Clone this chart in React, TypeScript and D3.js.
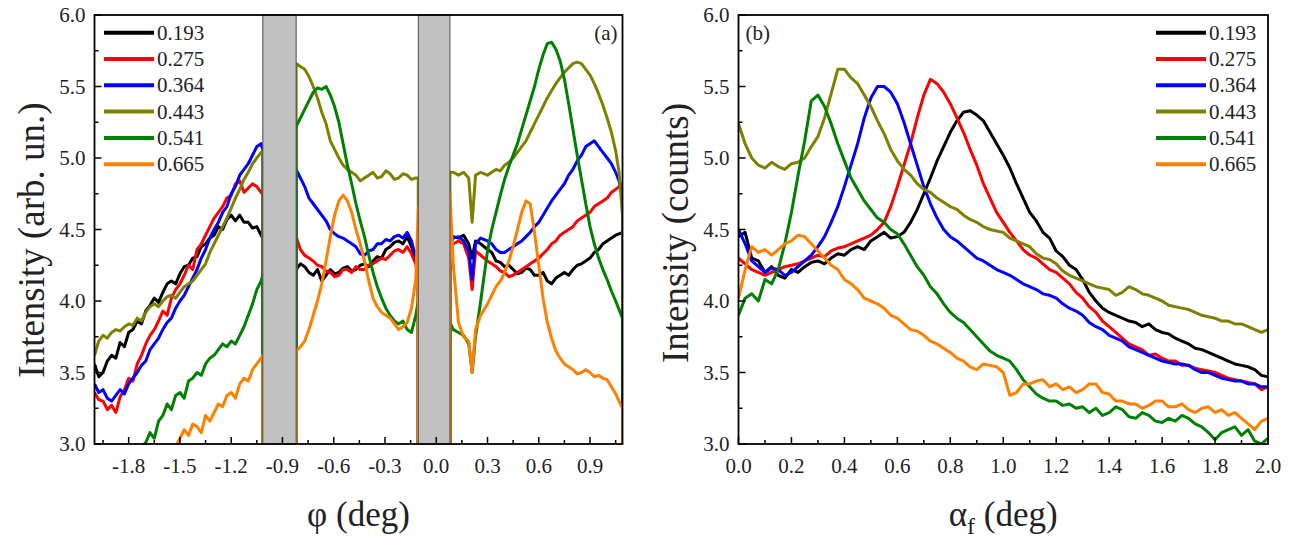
import React from "react";
import * as d3 from "d3";

const seriesLabels = ["0.193", "0.275", "0.364", "0.443", "0.541", "0.665"];
const seriesColors = ["#000000", "#ff0000", "#0000ff", "#808000", "#008000", "#ff8000"];

// ---- Panel (a): phi scans, three segments separated by detector gaps ----
const phiA = [
  -2.0, -1.975, -1.95, -1.925, -1.9, -1.875, -1.85, -1.825, -1.8, -1.775,
  -1.75, -1.725, -1.7, -1.675, -1.65, -1.625, -1.6, -1.575, -1.55, -1.525,
  -1.5, -1.475, -1.45, -1.425, -1.4, -1.375, -1.35, -1.325, -1.3, -1.275,
  -1.25, -1.225, -1.2, -1.175, -1.15, -1.125, -1.1, -1.075, -1.05, -1.025,
  -1.015,
];
const phiB = [
  -0.82, -0.795, -0.77, -0.745, -0.72, -0.695, -0.67, -0.645, -0.62, -0.595,
  -0.57, -0.545, -0.52, -0.495, -0.47, -0.445, -0.42, -0.395, -0.37, -0.345,
  -0.32, -0.295, -0.27, -0.245, -0.22, -0.195, -0.17, -0.145, -0.12, -0.105,
];
const phiC = [
  0.08, 0.1, 0.13, 0.16, 0.19, 0.21, 0.23, 0.26, 0.3,
  0.325, 0.35, 0.375, 0.4, 0.425, 0.45, 0.475, 0.5, 0.525, 0.55,
  0.575, 0.6, 0.625, 0.65, 0.675, 0.7, 0.725, 0.75, 0.775, 0.8,
  0.825, 0.85, 0.875, 0.9, 0.925, 0.95, 0.975, 1.0, 1.025, 1.05,
  1.07, 1.09,
];
const gaps = [[-1.015, -0.82], [-0.105, 0.08]];

const a0193A = [3.56, 3.47, 3.5, 3.58, 3.62, 3.6, 3.71, 3.68, 3.78, 3.8, 3.86, 3.84, 3.93, 3.97, 4.02, 3.99, 4.06, 4.12, 4.14, 4.12, 4.19, 4.24, 4.25, 4.3, 4.31, 4.38, 4.4, 4.44, 4.46, 4.52, 4.5, 4.57, 4.6, 4.56, 4.6, 4.55, 4.55, 4.51, 4.52, 4.46, 4.44];
const a0275A = [3.36, 3.31, 3.3, 3.24, 3.27, 3.22, 3.33, 3.38, 3.46, 3.44, 3.56, 3.62, 3.7, 3.76, 3.8, 3.86, 3.93, 3.9, 4.02, 4.08, 4.12, 4.18, 4.25, 4.22, 4.36, 4.4, 4.46, 4.52, 4.58, 4.62, 4.66, 4.72, 4.74, 4.82, 4.84, 4.76, 4.79, 4.82, 4.8, 4.76, 4.74];
const a0364A = [3.42, 3.36, 3.38, 3.32, 3.3, 3.34, 3.38, 3.35, 3.42, 3.46, 3.5, 3.55, 3.58, 3.66, 3.7, 3.74, 3.8, 3.85, 3.88, 3.95, 4.0, 4.04, 4.1, 4.16, 4.22, 4.3, 4.36, 4.44, 4.5, 4.55, 4.62, 4.66, 4.75, 4.8, 4.88, 4.92, 4.96, 5.02, 5.08, 5.1, 5.06];
const a0443A = [3.62, 3.72, 3.76, 3.74, 3.78, 3.8, 3.79, 3.82, 3.84, 3.83, 3.88, 3.86, 3.92, 3.96, 3.98, 3.96, 4.0, 4.03, 4.04, 4.02, 4.06, 4.1, 4.12, 4.14, 4.18, 4.22, 4.26, 4.34, 4.4, 4.46, 4.52, 4.58, 4.65, 4.72, 4.78, 4.85, 4.9, 4.96, 5.0, 5.04, 5.04];
const a0541A = [2.5, 2.55, 2.6, 2.65, 2.7, 2.75, 2.8, 2.85, 2.88, 2.92, 2.95, 2.98, 3.01, 3.08, 3.04, 3.16, 3.2, 3.28, 3.24, 3.34, 3.36, 3.32, 3.44, 3.46, 3.5, 3.48, 3.56, 3.6, 3.62, 3.66, 3.7, 3.68, 3.72, 3.7, 3.76, 3.82, 3.9, 3.98, 4.08, 4.14, 4.18];
const a0665A = [2.5, 2.52, 2.55, 2.57, 2.6, 2.62, 2.65, 2.67, 2.7, 2.72, 2.75, 2.77, 2.8, 2.82, 2.85, 2.87, 2.9, 2.92, 2.95, 2.98, 3.04, 3.1, 3.06, 3.14, 3.12, 3.08, 3.2, 3.16, 3.22, 3.28, 3.26, 3.34, 3.36, 3.32, 3.42, 3.46, 3.44, 3.52, 3.56, 3.6, 3.62];

const a0193B = [4.22, 4.26, 4.24, 4.2, 4.18, 4.22, 4.14, 4.18, 4.22, 4.19, 4.2, 4.23, 4.24, 4.21, 4.22, 4.25, 4.26, 4.24, 4.28, 4.31, 4.3, 4.36, 4.38, 4.41, 4.42, 4.4, 4.45, 4.38, 4.28, 4.2];
const a0275B = [4.45, 4.36, 4.32, 4.3, 4.28, 4.25, 4.24, 4.21, 4.2, 4.17, 4.18, 4.22, 4.22, 4.2, 4.24, 4.22, 4.22, 4.25, 4.26, 4.28, 4.3, 4.29, 4.32, 4.35, 4.36, 4.34, 4.38, 4.33, 4.26, 4.15];
const a0364B = [4.92, 4.86, 4.8, 4.72, 4.68, 4.64, 4.6, 4.56, 4.5, 4.47, 4.45, 4.44, 4.42, 4.4, 4.38, 4.33, 4.32, 4.35, 4.36, 4.4, 4.4, 4.43, 4.42, 4.45, 4.46, 4.44, 4.48, 4.42, 4.3, 4.2];
const a0443B = [5.66, 5.64, 5.62, 5.57, 5.5, 5.42, 5.32, 5.24, 5.12, 5.06, 5.0, 4.95, 4.92, 4.9, 4.88, 4.84, 4.86, 4.88, 4.9, 4.86, 4.87, 4.91, 4.89, 4.85, 4.86, 4.89, 4.88, 4.85, 4.86, 4.86];
const a0541B = [5.22, 5.28, 5.34, 5.4, 5.46, 5.49, 5.48, 5.5, 5.44, 5.36, 5.25, 5.1, 4.95, 4.82, 4.68, 4.56, 4.45, 4.32, 4.2, 4.1, 4.02, 3.95, 3.9, 3.86, 3.84, 3.86, 3.8, 3.78, 3.9, 4.0];
const a0665B = [3.65, 3.68, 3.72, 3.8, 3.9, 4.0, 4.12, 4.28, 4.45, 4.6, 4.7, 4.74, 4.7, 4.62, 4.5, 4.4, 4.28, 4.14, 4.02, 3.96, 3.92, 3.9, 3.88, 3.84, 3.8, 3.82, 3.85, 3.95, 4.15, 4.65];

const a0193C = [4.42, 4.45, 4.44, 4.46, 4.4, 4.3, 4.42, 4.4, 4.36, 4.34, 4.28, 4.27, 4.24, 4.25, 4.22, 4.19, 4.2, 4.23, 4.22, 4.18, 4.18, 4.2, 4.14, 4.12, 4.16, 4.18, 4.2, 4.18, 4.22, 4.25, 4.26, 4.28, 4.3, 4.34, 4.36, 4.4, 4.42, 4.44, 4.46, 4.47, 4.48];
const a0275C = [4.35, 4.4, 4.42, 4.4, 4.3, 4.08, 4.35, 4.32, 4.28, 4.26, 4.24, 4.21, 4.2, 4.17, 4.18, 4.2, 4.22, 4.24, 4.26, 4.28, 4.3, 4.33, 4.36, 4.4, 4.42, 4.46, 4.48, 4.5, 4.52, 4.56, 4.58, 4.6, 4.62, 4.66, 4.68, 4.7, 4.72, 4.76, 4.78, 4.8, 4.82];
const a0364C = [4.4, 4.44, 4.45, 4.42, 4.35, 4.15, 4.4, 4.44, 4.42, 4.4, 4.36, 4.34, 4.34, 4.36, 4.38, 4.4, 4.42, 4.45, 4.48, 4.52, 4.55, 4.6, 4.65, 4.7, 4.74, 4.78, 4.82, 4.88, 4.92, 4.98, 5.02, 5.08, 5.1, 5.12, 5.08, 5.04, 5.0, 4.96, 4.9, 4.84, 4.72];
const a0443C = [4.9, 4.9, 4.88, 4.9, 4.86, 4.55, 4.88, 4.9, 4.88, 4.9, 4.92, 4.91, 4.95, 4.97, 5.0, 5.04, 5.08, 5.12, 5.18, 5.24, 5.3, 5.36, 5.42, 5.47, 5.52, 5.56, 5.6, 5.63, 5.66, 5.67, 5.66, 5.62, 5.58, 5.52, 5.45, 5.37, 5.28, 5.18, 5.05, 4.9, 4.6];
const a0541C = [3.85, 3.8, 3.78, 3.76, 3.7, 3.5, 3.75, 4.0, 4.35, 4.5, 4.62, 4.74, 4.85, 4.94, 5.02, 5.1, 5.2, 5.3, 5.4, 5.5, 5.62, 5.72, 5.8, 5.81, 5.76, 5.68, 5.55, 5.38, 5.2, 5.02, 4.85, 4.68, 4.52, 4.4, 4.3, 4.22, 4.15, 4.07, 4.0, 3.94, 3.88];
const a0665C = [4.75, 4.25, 3.85, 3.75, 3.72, 3.5, 3.8, 3.9, 3.98, 4.04, 4.1, 4.14, 4.2, 4.28, 4.38, 4.5, 4.62, 4.7, 4.68, 4.48, 4.25, 4.02, 3.85, 3.74, 3.65, 3.6, 3.56, 3.54, 3.52, 3.49, 3.5, 3.52, 3.5, 3.47, 3.48, 3.46, 3.45, 3.4, 3.35, 3.3, 3.25];

const leftSegA = [a0193A, a0275A, a0364A, a0443A, a0541A, a0665A];
const leftSegB = [a0193B, a0275B, a0364B, a0443B, a0541B, a0665B];
const leftSegC = [a0193C, a0275C, a0364C, a0443C, a0541C, a0665C];

// ---- Panel (b): alpha_f scans ----
const alphaF = [
  0.0, 0.025, 0.05, 0.075, 0.1, 0.125, 0.15, 0.175, 0.2, 0.225,
  0.25, 0.275, 0.3, 0.325, 0.35, 0.375, 0.4, 0.425, 0.45, 0.475,
  0.5, 0.525, 0.55, 0.575, 0.6, 0.625, 0.65, 0.675, 0.7, 0.725,
  0.75, 0.775, 0.8, 0.825, 0.85, 0.875, 0.9, 0.925, 0.95, 0.975,
  1.0, 1.025, 1.05, 1.075, 1.1, 1.125, 1.15, 1.175, 1.2, 1.225,
  1.25, 1.275, 1.3, 1.325, 1.35, 1.375, 1.4, 1.425, 1.45, 1.475,
  1.5, 1.525, 1.55, 1.575, 1.6, 1.625, 1.65, 1.675, 1.7, 1.725,
  1.75, 1.775, 1.8, 1.825, 1.85, 1.875, 1.9, 1.925, 1.95, 1.975,
  2.0,
];
const b0193 = [
  4.45, 4.48, 4.3, 4.28, 4.2, 4.24, 4.18, 4.16, 4.22, 4.2,
  4.24, 4.27, 4.28, 4.26, 4.3, 4.33, 4.32, 4.36, 4.38, 4.36,
  4.42, 4.45, 4.48, 4.44, 4.45, 4.48, 4.55, 4.64, 4.75, 4.86,
  4.98, 5.08, 5.18, 5.26, 5.32, 5.33, 5.3, 5.26, 5.18, 5.1,
  5.02, 4.93, 4.82, 4.72, 4.62, 4.56, 4.48, 4.44, 4.35, 4.31,
  4.25, 4.22, 4.15, 4.06, 4.0, 3.95, 3.92, 3.9, 3.88, 3.86,
  3.85, 3.82, 3.84, 3.8, 3.78, 3.77, 3.74, 3.72, 3.7, 3.67,
  3.66, 3.64, 3.62, 3.6, 3.58, 3.56, 3.55, 3.54, 3.52, 3.48,
  3.47,
];
const b0275 = [
  4.3, 4.26, 4.22, 4.2, 4.18, 4.2, 4.22, 4.24, 4.25, 4.26,
  4.28, 4.3, 4.32, 4.31, 4.35, 4.37, 4.38, 4.4, 4.42, 4.44,
  4.46, 4.5, 4.55, 4.66, 4.8, 4.95, 5.1, 5.28, 5.44, 5.55,
  5.52, 5.46, 5.38, 5.28, 5.18, 5.06, 4.95, 4.82, 4.72, 4.62,
  4.55, 4.48, 4.42, 4.36, 4.32, 4.3, 4.26, 4.22, 4.2, 4.16,
  4.12, 4.06, 4.02, 3.96, 3.92, 3.86, 3.82, 3.78, 3.74, 3.7,
  3.68, 3.66, 3.62, 3.63, 3.6, 3.58, 3.58, 3.55, 3.55, 3.53,
  3.52, 3.51, 3.5, 3.48, 3.46, 3.45, 3.44, 3.43, 3.42, 3.38,
  3.4,
];
const b0364 = [
  4.5, 4.4, 4.28, 4.24, 4.2, 4.23, 4.22, 4.18, 4.2, 4.24,
  4.28, 4.32, 4.38, 4.45, 4.55, 4.66, 4.8, 4.95, 5.1, 5.28,
  5.42, 5.5, 5.5, 5.46, 5.38, 5.25, 5.1, 4.95, 4.8, 4.68,
  4.58, 4.5, 4.45, 4.42, 4.38, 4.34, 4.3, 4.28, 4.25, 4.22,
  4.2, 4.18, 4.15, 4.12, 4.1, 4.08, 4.05, 4.04, 4.02, 3.98,
  3.95, 3.93, 3.9, 3.85, 3.82, 3.8, 3.76, 3.74, 3.72, 3.68,
  3.66, 3.64, 3.62, 3.6, 3.58, 3.57, 3.56, 3.56, 3.55, 3.52,
  3.5, 3.5, 3.48, 3.46, 3.45, 3.44, 3.44, 3.42, 3.42, 3.4,
  3.4,
];
const b0443 = [
  5.24, 5.1, 5.0, 4.95, 4.93, 4.97, 4.94, 4.92, 4.96, 4.97,
  5.0, 5.08, 5.15, 5.28, 5.45, 5.62, 5.62, 5.56, 5.52, 5.44,
  5.36, 5.26, 5.17, 5.06, 4.98, 4.92, 4.88, 4.82, 4.78, 4.76,
  4.72, 4.69, 4.66, 4.64, 4.6, 4.57, 4.55, 4.52, 4.5, 4.49,
  4.48, 4.44, 4.42, 4.4, 4.38, 4.33, 4.3, 4.29, 4.26, 4.21,
  4.18, 4.16, 4.14, 4.12, 4.1, 4.09, 4.08, 4.04, 4.06, 4.1,
  4.08, 4.05, 4.04, 4.02, 4.0, 3.97, 3.96, 3.95, 3.94, 3.92,
  3.9, 3.89, 3.88, 3.86, 3.86, 3.84, 3.84, 3.82, 3.8, 3.78,
  3.8,
];
const b0541 = [
  3.9, 4.02, 4.05, 4.0, 4.15, 4.12, 4.22, 4.4, 4.62, 4.88,
  5.12, 5.4, 5.44, 5.36, 5.24, 5.1, 4.98, 4.86, 4.78, 4.7,
  4.64, 4.58, 4.55, 4.5, 4.47, 4.4, 4.32, 4.24, 4.18, 4.1,
  4.05, 3.98, 3.92, 3.88, 3.85, 3.8, 3.75, 3.7, 3.65, 3.62,
  3.6, 3.58, 3.52, 3.45, 3.4, 3.35, 3.32, 3.3, 3.3, 3.27,
  3.28, 3.25, 3.26, 3.22, 3.25, 3.2, 3.22, 3.26, 3.24, 3.19,
  3.18, 3.22, 3.2, 3.16, 3.15, 3.18, 3.16, 3.2, 3.18, 3.14,
  3.12, 3.08, 3.03, 3.08, 3.1, 3.12, 3.06, 3.1, 3.02, 3.0,
  3.04,
];
const b0665 = [
  4.02, 4.22, 4.38, 4.34, 4.36, 4.32, 4.36, 4.4, 4.42, 4.46,
  4.45, 4.4, 4.35, 4.3, 4.25, 4.22, 4.15, 4.12, 4.08, 4.02,
  4.0, 3.98, 3.95, 3.9, 3.88, 3.84, 3.8, 3.79, 3.76, 3.72,
  3.7, 3.67, 3.64, 3.6, 3.58, 3.54, 3.52, 3.56, 3.55, 3.54,
  3.5, 3.34, 3.36, 3.42, 3.42, 3.44, 3.45, 3.4, 3.42, 3.38,
  3.4, 3.36, 3.38, 3.42, 3.42, 3.36, 3.35, 3.3, 3.3, 3.28,
  3.28, 3.25, 3.27, 3.3, 3.3, 3.26, 3.26, 3.28, 3.24, 3.22,
  3.25, 3.26, 3.22, 3.24, 3.2, 3.22, 3.18, 3.14, 3.1, 3.16,
  3.18,
];
const rightSeries = [b0193, b0275, b0364, b0443, b0541, b0665];

const yTicks = [3.0, 3.5, 4.0, 4.5, 5.0, 5.5, 6.0];
const yMinorTicks = [3.25, 3.75, 4.25, 4.75, 5.25, 5.75];
const phiTicks = [-1.8, -1.5, -1.2, -0.9, -0.6, -0.3, 0.0, 0.3, 0.6, 0.9];
const alphaTicks = [0.0, 0.2, 0.4, 0.6, 0.8, 1.0, 1.2, 1.4, 1.6, 1.8, 2.0];

const FONT = "'Liberation Serif', 'Times New Roman', serif";
const TOP = 15;
const BOTTOM = 444;

const fmt = (v: number) => {
  const s = Math.abs(v).toFixed(1);
  return v < -1e-9 ? "-" + s : s;
};

function Panel(props: {
  id: string;
  x0: number;
  x1: number;
  domain: [number, number];
  ticks: number[];
  minorStep: number;
  series: [number, number][][];
  gapsList: number[][];
  ylabel: string;
  ylabelY: number;
  tag: string;
  tagRight: boolean;
  legendX: number;
  xlabel: React.ReactNode;
}) {
  const { id, x0, x1, domain, ticks, minorStep, series, gapsList, ylabel, ylabelY, tag, tagRight, legendX, xlabel } = props;
  const x = d3.scaleLinear().domain(domain).range([x0, x1]);
  const y = d3.scaleLinear().domain([3, 6]).range([BOTTOM, TOP]);
  const line = d3.line<[number, number]>().x((d) => x(d[0])).y((d) => y(d[1]));
  const minors: number[] = [];
  for (let i = 0; i < ticks.length; i++) {
    const m1 = ticks[i] - minorStep;
    if (i === 0 && m1 > domain[0] + 1e-6) minors.push(m1);
    const m2 = ticks[i] + minorStep;
    if (m2 < domain[1] - 1e-6) minors.push(m2);
  }
  return (
    <g>
      <defs>
        <clipPath id={id}>
          <rect x={x0} y={TOP} width={x1 - x0} height={BOTTOM - TOP} />
        </clipPath>
      </defs>
      <g clipPath={`url(#${id})`}>
        {series.map((s, i) => (
          <path key={i} d={line(s) || ""} fill="none" stroke={seriesColors[i]} strokeWidth={3} strokeLinejoin="round" />
        ))}
      </g>
      {gapsList.map((g, i) => (
        <rect key={i} x={x(g[0])} y={TOP} width={x(g[1]) - x(g[0])} height={BOTTOM - TOP} fill="#c0c0c0" stroke="#4d4d4d" strokeWidth={1} />
      ))}
      <rect x={x0} y={TOP} width={x1 - x0} height={BOTTOM - TOP} fill="none" stroke="#000" strokeWidth={1.8} />
      {ticks.map((t) => (
        <g key={t}>
          <line x1={x(t)} x2={x(t)} y1={BOTTOM} y2={BOTTOM - 7} stroke="#000" strokeWidth={1.5} />
          <text x={x(t)} y={473} textAnchor="middle" fontSize={21} fontFamily={FONT} fill="#222">
            {fmt(t)}
          </text>
        </g>
      ))}
      {minors.map((t) => (
        <line key={"m" + t} x1={x(t)} x2={x(t)} y1={BOTTOM} y2={BOTTOM - 4} stroke="#000" strokeWidth={1.5} />
      ))}
      {yTicks.map((t) => (
        <g key={"y" + t}>
          <line x1={x0} x2={x0 + 7} y1={y(t)} y2={y(t)} stroke="#000" strokeWidth={1.5} />
          <text x={x0 - 9} y={y(t) + 7} textAnchor="end" fontSize={21} fontFamily={FONT} fill="#222">
            {t.toFixed(1)}
          </text>
        </g>
      ))}
      {yMinorTicks.map((t) => (
        <line key={"ym" + t} x1={x0} x2={x0 + 4} y1={y(t)} y2={y(t)} stroke="#000" strokeWidth={1.5} />
      ))}
      <text
        transform={`translate(${x0 - 51},${ylabelY}) rotate(-90)`}
        textAnchor="middle"
        fontSize={37}
        fontFamily={FONT}
        fill="#222"
      >
        {ylabel}
      </text>
      <text x={(x0 + x1) / 2} y={526} textAnchor="middle" fontSize={35} fontFamily={FONT} fill="#222">
        {xlabel}
      </text>
      <text
        x={tagRight ? x1 - 5 : x0 + 7}
        y={40}
        textAnchor={tagRight ? "end" : "start"}
        fontSize={21}
        fontFamily={FONT}
        fill="#222"
      >
        {tag}
      </text>
      {seriesLabels.map((lab, i) => {
        const ly = 32.7 + i * 26.3;
        return (
          <g key={lab}>
            <line x1={legendX} x2={legendX + 50} y1={ly} y2={ly} stroke={seriesColors[i]} strokeWidth={4} />
            <text x={legendX + 53} y={ly + 7} fontSize={21} fontFamily={FONT} fill="#222">
              {lab}
            </text>
          </g>
        );
      })}
    </g>
  );
}

export default function App() {
  const leftSeries: [number, number][][] = leftSegA.map((segA, i) => {
    const pts: [number, number][] = [];
    phiA.forEach((p, j) => pts.push([p, segA[j]]));
    pts.push([phiA[phiA.length - 1], 0]);
    pts.push([phiB[0], 0]);
    phiB.forEach((p, j) => pts.push([p, leftSegB[i][j]]));
    pts.push([phiB[phiB.length - 1], 0]);
    pts.push([phiC[0], 0]);
    phiC.forEach((p, j) => pts.push([p, leftSegC[i][j]]));
    pts.push([phiC[phiC.length - 1], 0]);
    return pts;
  });
  const rSeries: [number, number][][] = rightSeries.map((s) => alphaF.map((a, j) => [a, s[j]] as [number, number]));

  return (
    <svg width={1299} height={540} style={{ display: "block", position: "absolute", left: 0, top: 0, background: "#fff" }}>
      <rect width={1299} height={540} fill="#fff" />
      <Panel
        id="clipA"
        x0={94.5}
        x1={622.5}
        domain={[-2.0, 1.09]}
        ticks={phiTicks}
        minorStep={0.15}
        series={leftSeries}
        gapsList={gaps}
        ylabel="Intensity (arb. un.)"
        ylabelY={240}
        tag="(a)"
        tagRight={true}
        legendX={104}
        xlabel={<tspan>φ (deg)</tspan>}
      />
      <Panel
        id="clipB"
        x0={738.5}
        x1={1268}
        domain={[0, 2]}
        ticks={alphaTicks}
        minorStep={0.1}
        series={rSeries}
        gapsList={[]}
        ylabel="Intensity (counts)"
        ylabelY={233}
        tag="(b)"
        tagRight={false}
        legendX={1156}
        xlabel={
          <>
            <tspan>α</tspan>
            <tspan fontSize={24} dy={8}>f</tspan>
            <tspan dy={-8}> (deg)</tspan>
          </>
        }
      />
    </svg>
  );
}
